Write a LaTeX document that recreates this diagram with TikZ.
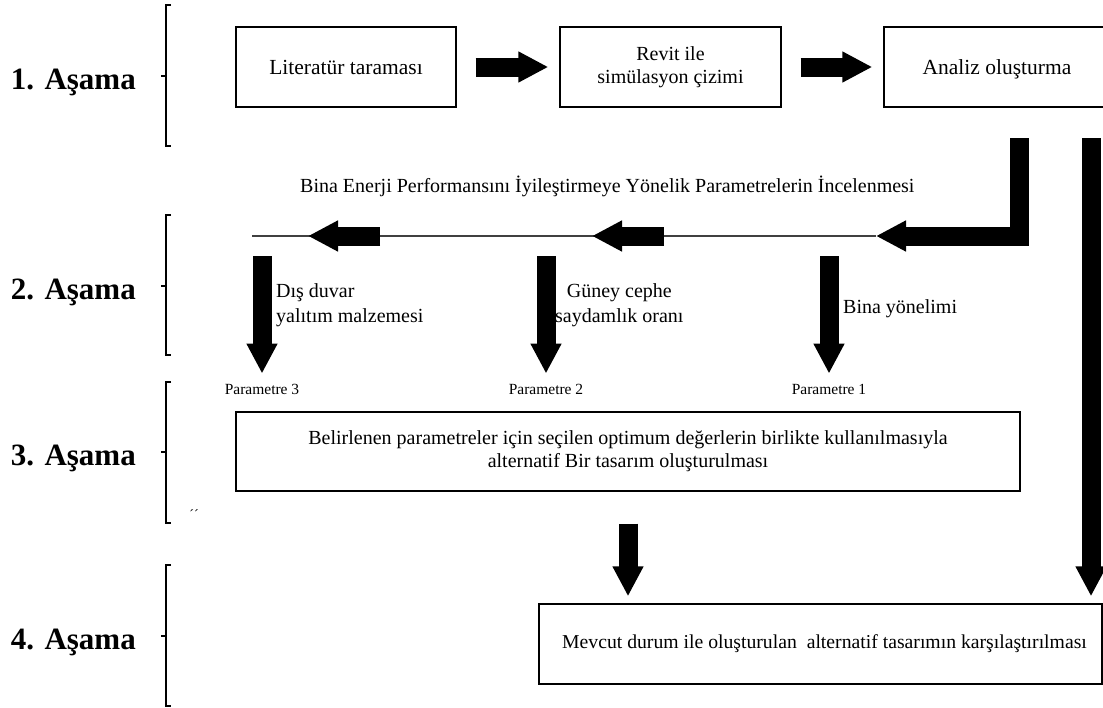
\documentclass[tikz,border=0pt]{standalone}
\usepackage{fontspec}
\setmainfont{Liberation Serif}
\usetikzlibrary{arrows.meta,calc}

\begin{document}
\begin{tikzpicture}
  [ x=1pt, y=-1pt,
  every node/.style={inner sep=0pt}]
  \tikzset{
    box/.style={
      draw, line width=1.4pt,
      minimum height=80pt,
      align=center,
      font=\fontsize{20}{23}\selectfont,
    },
    bigbox/.style={
      box,
      font=\fontsize{21.5}{25}\selectfont,
    },
    stage/.style={
      anchor=base east,
      font=\fontsize{31}{36}\selectfont\bfseries,
    },
    lbl/.style={
      font=\fontsize{20}{25}\selectfont,
    },
    param/.style={
      anchor=base,
      font=\fontsize{15.5}{18}\selectfont,
    },
    fat/.style={line width=19pt, -{Triangle[length=30pt, width=29pt]}},
    brk/.style={line width=1.2pt},
  }
  \useasboundingbox (0,0) rectangle (1103,707);

  \node[bigbox, minimum width=220pt] (lit)    at (346,67)   {Literatür taraması};
  \node[box, minimum width=221pt]    (revit)  at (670.5,67) {Revit ile\\simülasyon çizimi};
  \node[bigbox, minimum width=226pt, text depth=0pt] (analiz) at (997,67) {Analiz oluşturma};

  \draw[fat] ([xshift=19pt]lit.east) -- ([xshift=-11pt]revit.west);
  \draw[fat] ([xshift=19pt]revit.east) -- ([xshift=-11pt]analiz.west);

  \node[lbl, anchor=base west] (baslik) at (300,192)
    {Bina Enerji Performansını İyileştirmeye Yönelik Parametrelerin İncelenmesi};

  \coordinate (lineL)  at (252,236);
  \coordinate (lineR)  at (876,236);
  \coordinate (lstart) at (1019.5,138);
  \coordinate (rstart) at (1091,138);
  \draw[line width=1.3pt, black!75] (lineL) -- (lineR);

  \node[param] (p3) at (262,394) {Parametre 3};
  \node[param] (p2) at (546,394) {Parametre 2};
  \node[param] (p1) at (829,394) {Parametre 1};

  \node[lbl, anchor=west, align=left]   (duvar)   at (276,305) {Dış duvar\\yalıtım malzemesi};
  \node[lbl, anchor=west, align=center] (guney)   at (555,305) {Güney cephe\\saydamlık oranı};
  \node[lbl, anchor=base west]          (yonelim) at (843,313) {Bina yönelimi};

  \node[box, minimum width=784pt, minimum height=79pt] (alt) at (628,451.5)
    {Belirlenen parametreler için seçilen optimum değerlerin birlikte kullanılmasıyla\\alternatif Bir tasarım oluşturulması};
  \node[box, minimum width=563pt, font=\fontsize{19.7}{23}\selectfont] (kars) at (820.5,644)
    {\hspace*{8pt}Mevcut durum ile oluşturulan\ \ alternatif tasarımın karşılaştırılması};

  \draw[fat] (lstart) |- (lineR);
  \draw[fat] (rstart) -- ($(rstart |- kars.north)+(0pt,7pt)$);
  \foreach \p in {p3,p2}
    \draw[fat] ($(\p |- lineL)+(118pt,0pt)$) -- ($(\p |- lineL)+(46pt,0pt)$);
  \foreach \p in {p3,p2,p1}
    \draw[fat] ($(\p |- lineL)+(0pt,-20pt)$) -- ([yshift=10pt]\p.north);
  \draw[fat] ([yshift=-32pt]alt.south) -- ($(alt.south |- kars.north)+(0pt,7pt)$);

  \node[stage] (s1) at (136,89)  {1. Aşama};
  \node[stage] (s2) at (136,299) {2. Aşama};
  \node[stage] (s3) at (136,465) {3. Aşama};
  \node[stage] (s4) at (136,649) {4. Aşama};
  \foreach \t/\b/\m in {5/146/76, 215/355/286, 382/523/452, 565/706/636}
    \draw[brk] (171,\t) -| (166,\b) -- (171,\b) (166,\m) -- (161,\m);

  \node[font=\fontsize{14}{14}\selectfont] (isaret) at (194,515) {´´};
\end{tikzpicture}
\end{document}
